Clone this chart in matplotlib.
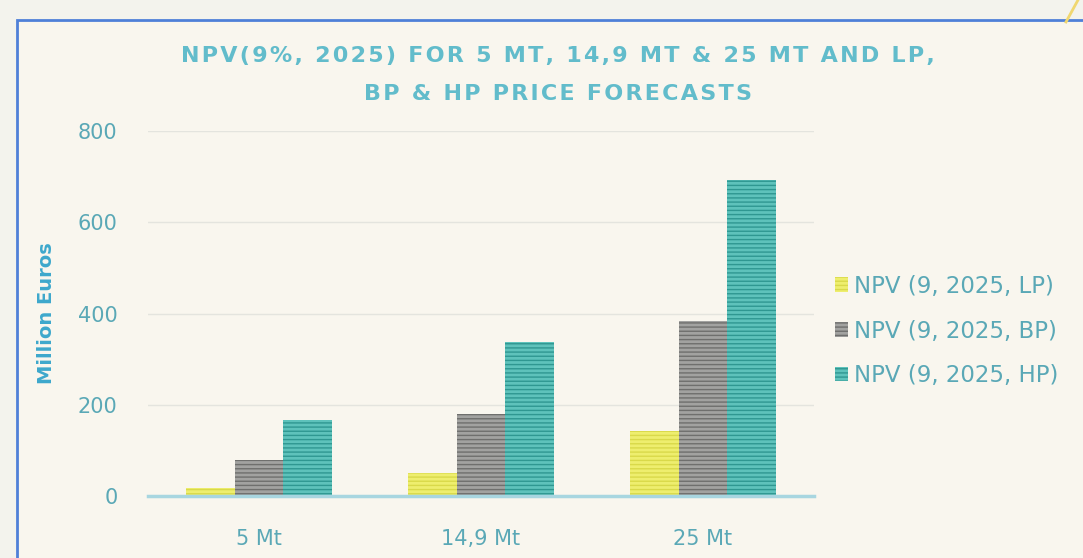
import numpy as np
import matplotlib.pyplot as plt
from matplotlib.patches import Rectangle
from matplotlib.lines import Line2D

# data
categories = ['5 Mt', '14,9 Mt', '25 Mt']
npv_lp = [17, 50, 142]
npv_bp = [80, 180, 383]
npv_hp = [167, 337, 692]
series_names = ['NPV (9, 2025, LP)', 'NPV (9, 2025, BP)', 'NPV (9, 2025, HP)']
yticks = [0, 200, 400, 600, 800]

title_lines = ['NPV(9%, 2025) FOR 5 MT, 14,9 MT & 25 MT AND LP,',
               'BP & HP PRICE FORECASTS']

face_colors = ['#eeee6e', '#a2a2a0', '#5ec2bb']
hatch_colors = ['#d9d94a', '#6f6f6d', '#2f9791']
text_col = '#5aa8b6'

plt.rcParams['hatch.linewidth'] = 1.0

fig = plt.figure(figsize=(10.83, 5.58), dpi=100, facecolor='#f3f3ed')

# outer card with blue border (extends past the right/bottom edge)
fig.patches.append(Rectangle((17 / 1083, -0.05), 1.2, 1 - 20 / 558 + 0.05,
                             transform=fig.transFigure, facecolor='#f9f6ee',
                             edgecolor='#4f80d8', linewidth=2, zorder=-5))
fig.lines.append(Line2D([1066 / 1083, 1078 / 1083], [1 - 22 / 558, 1.0],
                        transform=fig.transFigure, color='#f0d770', lw=2, zorder=-4))

ax = fig.add_axes([148 / 1083, 1 - 496 / 558, 666 / 1083, 365 / 558])
ax.set_facecolor('none')

x = np.arange(len(categories))
w = 0.22
for i, (vals, fc, hc, name) in enumerate(zip([npv_lp, npv_bp, npv_hp], face_colors,
                                              hatch_colors, series_names)):
    ax.bar(x + (i - 1) * w, vals, width=w, color=fc, edgecolor=hc, hatch='----',
           linewidth=0, label=name, zorder=3)

ax.set_xlim(-0.5, len(categories) - 0.5)
ax.set_ylim(0, 800)
ax.set_yticks(yticks)
ax.set_xticks(x)
ax.set_xticklabels(categories)
ax.tick_params(axis='both', length=0, labelsize=15, labelcolor=text_col)
ax.tick_params(axis='y', pad=22)
ax.tick_params(axis='x', pad=24)

ax.grid(axis='y', color='#e4e4de', linewidth=1, zorder=0)
for s in ['top', 'right', 'left']:
    ax.spines[s].set_visible(False)
ax.spines['bottom'].set_color('#a8d6e0')
ax.spines['bottom'].set_linewidth(2.5)
ax.spines['bottom'].set_zorder(4)

ax.set_ylabel('Million Euros', fontsize=14, fontweight='bold', color='#3da8cc')
ax.yaxis.set_label_coords(-0.138, 0.5)

# title with a bit of letter spacing (hair spaces between characters)
for line, ypos in zip(title_lines, [1 - 56 / 558, 1 - 94 / 558]):
    fig.text(558 / 1083, ypos, '\u200a'.join(line), ha='center', va='center',
             fontsize=16, fontweight='bold', color='#62bccb')

leg = ax.legend(loc='center left', bbox_to_anchor=(1.0, 0.452), frameon=False,
                fontsize=16.5, labelcolor=text_col, handlelength=0.6, handleheight=0.6,
                handletextpad=0.25, labelspacing=0.95)

fig.savefig('out.png', dpi=100, facecolor=fig.get_facecolor())
